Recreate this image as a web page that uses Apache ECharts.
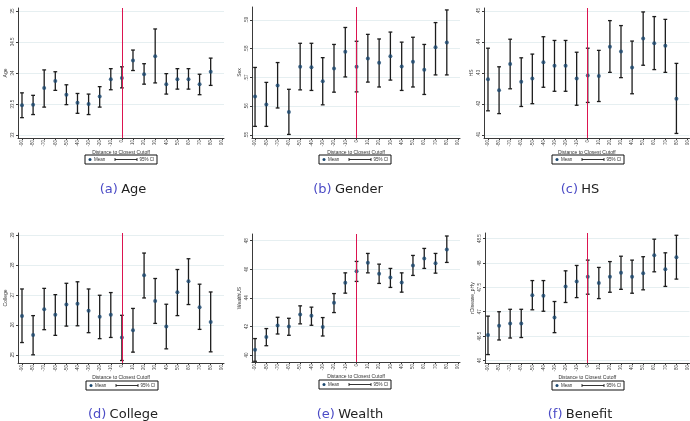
<!DOCTYPE html>
<html><head><meta charset="utf-8">
<script src="https://cdn.jsdelivr.net/npm/echarts@6/dist/echarts.min.js"></script>
<style>html,body{margin:0;padding:0;background:#fff}#c{width:690px;height:421px}</style>
</head><body><div id="c"></div>
<script>
// ---- data ----
const xs = [-90,-80,-70,-60,-50,-40,-30,-20,-10,0,10,20,30,40,50,60,70,80];
const xTicks = [-90,-80,-70,-60,-50,-40,-30,-20,-10,0,10,20,30,40,50,60,70,80,90];

const ageMean = [33.48,33.49,33.76,33.87,33.65,33.52,33.50,33.62,33.90,33.92,34.20,33.98,34.27,33.82,33.90,33.90,33.82,34.02];
const ageLo   = [33.28,33.33,33.45,33.72,33.49,33.35,33.33,33.45,33.73,33.76,34.04,33.82,33.84,33.66,33.74,33.74,33.65,33.80];
const ageHi   = [33.68,33.64,34.05,34.02,33.81,33.67,33.66,33.78,34.07,34.10,34.37,34.15,34.71,33.99,34.07,34.07,33.98,34.24];
const ageTicks = [33,33.5,34,34.5,35];

const sexMean = [.5634,.5606,.5672,.5580,.5737,.5736,.5687,.5731,.5790,.5737,.5766,.5751,.5774,.5738,.5755,.5727,.5805,.5822];
const sexLo   = [.5530,.5530,.5594,.5502,.5657,.5655,.5605,.5649,.5702,.5650,.5684,.5667,.5691,.5655,.5667,.5641,.5709,.5709];
const sexHi   = [.5735,.5683,.5752,.5659,.5819,.5819,.5769,.5815,.5874,.5826,.5850,.5834,.5858,.5823,.5840,.5815,.5891,.5935];
const sexTicks = [.55,.56,.57,.58,.59];

const hsMean = [.4280,.4244,.4329,.4272,.4282,.4335,.4323,.4323,.4282,.4292,.4290,.4385,.4369,.4318,.4411,.4396,.4388,.4217];
const hsLo   = [.4178,.4169,.4249,.4192,.4201,.4254,.4241,.4241,.4196,.4205,.4208,.4302,.4285,.4233,.4325,.4311,.4302,.4105];
const hsHi   = [.4380,.4320,.4409,.4349,.4361,.4417,.4405,.4405,.4367,.4380,.4373,.4469,.4453,.4403,.4497,.4482,.4473,.4331];
const hsTicks = [.41,.42,.43,.44,.45];

const colMean = [.2632,.2568,.2654,.2636,.2670,.2673,.2649,.2629,.2636,.2560,.2584,.2768,.2682,.2597,.2711,.2748,.2661,.2612];
const colLo   = [.2543,.2502,.2586,.2567,.2598,.2599,.2576,.2556,.2560,.2483,.2511,.2692,.2607,.2522,.2633,.2670,.2587,.2512];
const colHi   = [.2722,.2633,.2724,.2703,.2741,.2746,.2722,.2701,.2710,.2634,.2657,.2842,.2757,.2671,.2787,.2823,.2738,.2712];
const colTicks = [.25,.26,.27,.28,.29];

const wMean = [40.37,41.26,42.06,41.99,42.83,42.74,41.96,43.65,45.05,45.87,46.46,45.68,45.43,45.08,46.27,46.76,46.43,47.39];
const wLo   = [39.56,40.65,41.47,41.38,42.18,42.08,41.33,42.97,44.33,45.15,45.75,45.01,44.73,44.40,45.57,46.06,45.73,46.48];
const wHi   = [41.15,41.85,42.64,42.57,43.44,43.35,42.62,44.30,45.75,46.55,47.11,46.36,46.06,45.75,46.97,47.46,47.11,48.33];
const wTicks = [40,42,44,46,48];

const bMean = [46.52,46.71,46.76,46.76,47.34,47.33,46.88,47.52,47.62,47.72,47.59,47.72,47.80,47.72,47.79,48.16,47.87,48.12];
const bLo   = [46.12,46.42,46.46,46.47,47.04,47.01,46.57,47.19,47.29,47.36,47.27,47.40,47.46,47.38,47.45,47.82,47.52,47.67];
const bHi   = [46.91,47.00,47.05,47.05,47.64,47.64,47.21,47.84,47.95,48.06,47.91,48.03,48.14,48.06,48.13,48.49,48.21,48.57];
const bTicks = [46,46.5,47,47.5,48,48.5];

const yNames = ['Age','Sex','HS','College','WealthUS','rDisease_pHy'];
const letters = ['(a)','(b)','(c)','(d)','(e)','(f)'];
const captions = ['Age','Gender','HS','College','Wealth','Benefit'];
const xTitle = 'Distance to Closest Cutoff';
const legendMean = 'Mean', legendCI = '95% CI';

// ---- layout ----
const panels = [
  {m:ageMean,lo:ageLo,hi:ageHi,t:ageTicks, g:{left:18,top:8,width:206,height:130},  x:[-93.6,92],  y:[32.952,35.048], leg:[85,155],  cap:[123,190]},
  {m:sexMean,lo:sexLo,hi:sexHi,t:sexTicks, g:{left:252,top:7,width:208,height:131}, x:[-92.7,91.7], y:[.54896,.59452], leg:[319,155], cap:[348,190]},
  {m:hsMean,lo:hsLo,hi:hsHi,t:hsTicks,     g:{left:484,top:8,width:206,height:130}, x:[-93.6,91.8], y:[.40903,.45097], leg:[552,155], cap:[580,190]},
  {m:colMean,lo:colLo,hi:colHi,t:colTicks, g:{left:18,top:233,width:206,height:130},x:[-93.6,92],  y:[.24747,.2909],  leg:[86,381],  cap:[123,415]},
  {m:wMean,lo:wLo,hi:wHi,t:wTicks,         g:{left:252,top:234,width:208,height:128},x:[-92.7,91.7],y:[39.51,48.47],   leg:[319,380], cap:[350,415]},
  {m:bMean,lo:bLo,hi:bHi,t:bTicks,         g:{left:485,top:233,width:205,height:130},x:[-92.7,91.8],y:[45.947,48.617], leg:[552,381], cap:[580,415]}
];

const FONT = 'Liberation Sans';
const AX = '#3a3a3a', GRIDC = '#e6eff1', NAVY = '#1a476f', BAR = '#1c1c1c', RED = '#dc1450';

function fmtY(v){ return String(v).replace(/^0\./,'.'); }

function renderErr(params, api){
  const x = api.value(0), lo = api.value(1), hi = api.value(2);
  const p1 = api.coord([x, lo]), p2 = api.coord([x, hi]);
  const w = 1.9, st = {stroke: BAR, lineWidth: 1.3};
  return {type:'group', children:[
    {type:'line', shape:{x1:p1[0],y1:p1[1],x2:p2[0],y2:p2[1]}, style:st},
    {type:'line', shape:{x1:p1[0]-w,y1:p1[1],x2:p1[0]+w,y2:p1[1]}, style:st},
    {type:'line', shape:{x1:p2[0]-w,y1:p2[1],x2:p2[0]+w,y2:p2[1]}, style:st}
  ]};
}

const grid=[], xAxis=[], yAxis=[], series=[], graphic=[];
panels.forEach((p,i)=>{
  grid.push(Object.assign({containLabel:false}, p.g));
  xAxis.push({type:'value', gridIndex:i, min:p.x[0], max:p.x[1],
    name:xTitle, nameLocation:'middle', nameGap:9,
    nameTextStyle:{fontSize:5, color:'#333', fontFamily:FONT},
    axisLine:{show:true, onZero:false, lineStyle:{color:AX, width:1}},
    axisTick:{show:true, length:2, customValues:xTicks, lineStyle:{color:AX}},
    axisLabel:{customValues:xTicks, rotate:90, fontSize:4.5, margin:2, color:'#444', fontFamily:FONT},
    splitLine:{show:false}});
  yAxis.push({type:'value', gridIndex:i, min:p.y[0], max:p.y[1],
    name:yNames[i], nameLocation:'middle', nameGap:10, nameRotate:90,
    nameTextStyle:{fontSize:5, color:'#333', fontFamily:FONT},
    axisLine:{show:true, onZero:false, lineStyle:{color:AX, width:1}},
    axisTick:{show:true, length:2, customValues:p.t, lineStyle:{color:AX}},
    axisLabel:{customValues:p.t, rotate:90, fontSize:4.5, margin:3, color:'#444', fontFamily:FONT, formatter:fmtY},
    splitLine:{show:true, customValues:p.t, lineStyle:{color:GRIDC, width:1}}});
  series.push({type:'custom', name:legendCI, xAxisIndex:i, yAxisIndex:i, renderItem:renderErr,
    encode:{x:0, y:[1,2]}, data: xs.map((x,k)=>[x, p.lo[k], p.hi[k]]), z:2, silent:true});
  series.push({type:'scatter', name:legendMean, xAxisIndex:i, yAxisIndex:i, symbol:'circle', symbolSize:4,
    itemStyle:{color:NAVY}, data: xs.map((x,k)=>[x, p.m[k]]), z:3, silent:true,
    markLine:{silent:true, symbol:'none', label:{show:false}, lineStyle:{color:RED, width:1, type:'solid'},
      data:[{xAxis:0}]}});
  // legend box
  const lx = p.leg[0], ly = p.leg[1];
  graphic.push({type:'group', x:lx, y:ly, children:[
    {type:'rect', shape:{x:0,y:0,width:72,height:9}, style:{fill:'#fff', stroke:'#111', lineWidth:1}},
    {type:'circle', shape:{cx:5,cy:4.5,r:1.5}, style:{fill:NAVY}},
    {type:'text', x:9, y:4.7, style:{text:legendMean, fontSize:4.5, fill:'#333', fontFamily:FONT, verticalAlign:'middle'}},
    {type:'line', shape:{x1:30,y1:4.5,x2:52,y2:4.5}, style:{stroke:BAR, lineWidth:0.9}},
    {type:'line', shape:{x1:30,y1:3,x2:30,y2:6}, style:{stroke:BAR, lineWidth:0.9}},
    {type:'line', shape:{x1:52,y1:3,x2:52,y2:6}, style:{stroke:BAR, lineWidth:0.9}},
    {type:'text', x:54.5, y:4.7, style:{text:legendCI, fontSize:4.5, fill:'#333', fontFamily:FONT, verticalAlign:'middle'}}
  ]});
  graphic.push({type:'text', x:p.cap[0], y:p.cap[1], style:{
    text:'{a|'+letters[i]+'} {b|'+captions[i]+'}', align:'center', verticalAlign:'middle',
    rich:{a:{fontSize:13, fill:'#4b4bc6', fontFamily:'DejaVu Sans'}, b:{fontSize:13, fill:'#222', fontFamily:'DejaVu Sans'}}}});
});

const chart = echarts.init(document.getElementById('c'), null, {renderer:'canvas'});
chart.setOption({backgroundColor:'#fff', animation:false, grid, xAxis, yAxis, series, graphic});
</script></body></html>
